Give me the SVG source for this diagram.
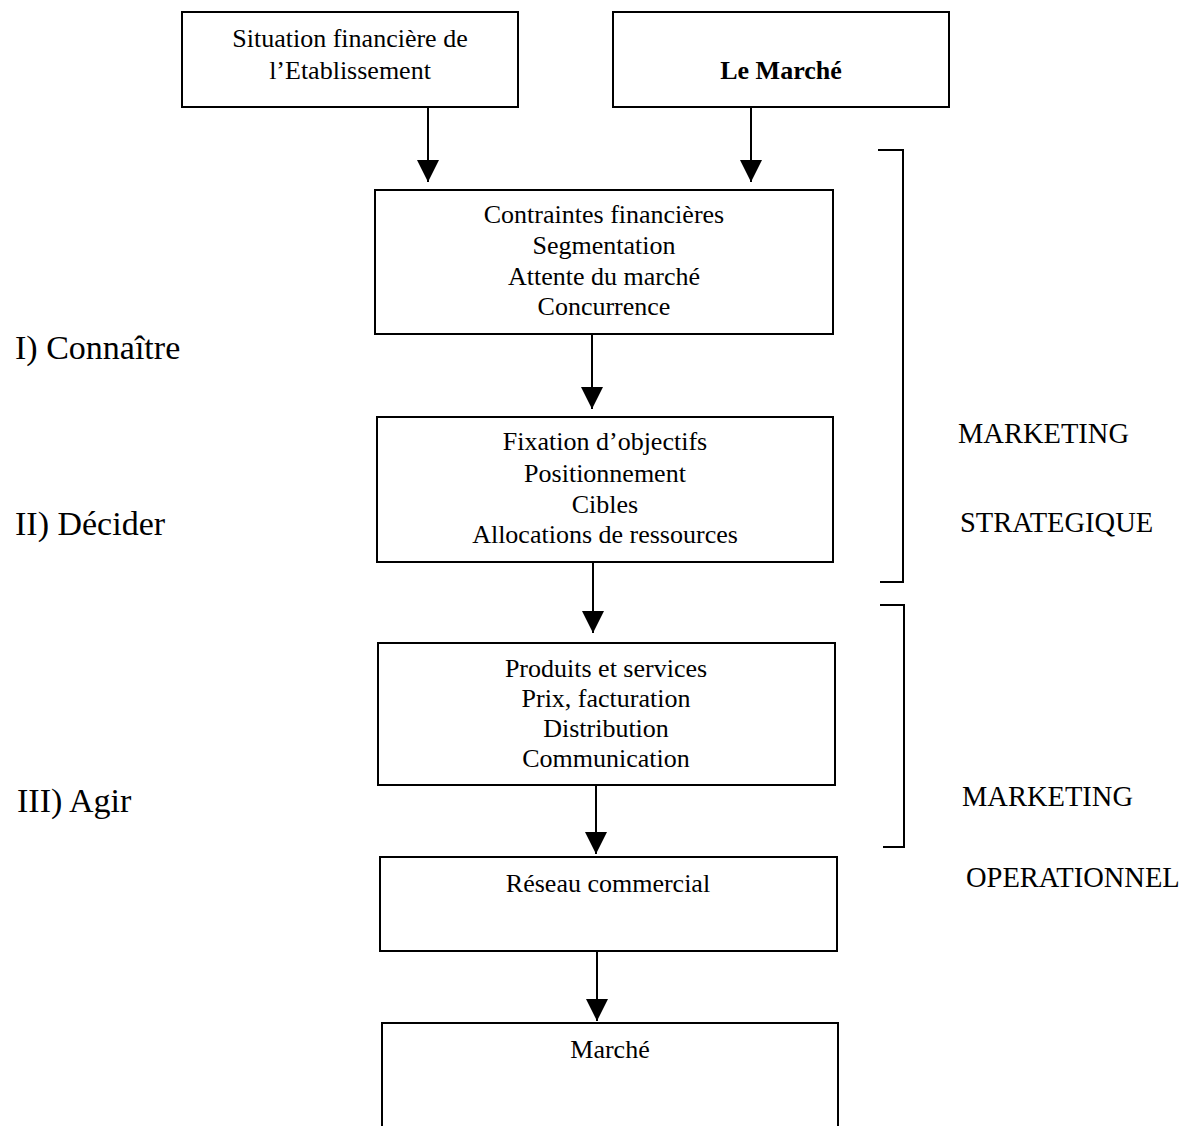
<svg xmlns="http://www.w3.org/2000/svg" width="1191" height="1126" viewBox="0 0 1191 1126">
<style>
  .box { fill: #ffffff; stroke: #000000; stroke-width: 2; }
  .t { font-family: "Liberation Serif", "Times New Roman", serif; font-size: 26px; fill: #000000; text-anchor: middle; }
  .b { font-weight: bold; }
  .side { font-family: "Liberation Serif", "Times New Roman", serif; font-size: 34px; fill: #000000; }
  .mk { font-family: "Liberation Serif", "Times New Roman", serif; font-size: 28.5px; fill: #000000; }
  .conn { stroke: #000000; stroke-width: 2; fill: none; }
  .brk { stroke: #000000; stroke-width: 2; fill: none; }
</style>
<defs>
  <marker id="arr" markerWidth="22" markerHeight="24" refX="22" refY="11" orient="auto" markerUnits="userSpaceOnUse">
    <path d="M0,0 L22,11 L0,22 Z" fill="#000000"/>
  </marker>
</defs>
<rect width="1191" height="1126" fill="#ffffff"/>

<g id="node-situation">
  <rect class="box" x="182" y="12" width="336" height="95"/>
  <text class="t" x="350" y="47">Situation financière de</text>
  <text class="t" x="350" y="79">l’Etablissement</text>
</g>
<g id="node-le-marche">
  <rect class="box" x="613" y="12" width="336" height="95"/>
  <text class="t b" x="781" y="79">Le Marché</text>
</g>
<g id="node-connaitre">
  <rect class="box" x="375" y="190" width="458" height="144"/>
  <text class="t" x="604" y="223">Contraintes financières</text>
  <text class="t" x="604" y="254">Segmentation</text>
  <text class="t" x="604" y="285">Attente du marché</text>
  <text class="t" x="604" y="315">Concurrence</text>
</g>
<g id="node-decider">
  <rect class="box" x="377" y="417" width="456" height="145"/>
  <text class="t" x="605" y="450">Fixation d’objectifs</text>
  <text class="t" x="605" y="482">Positionnement</text>
  <text class="t" x="605" y="513">Cibles</text>
  <text class="t" x="605" y="543">Allocations de ressources</text>
</g>
<g id="node-agir">
  <rect class="box" x="378" y="643" width="457" height="142"/>
  <text class="t" x="606" y="677">Produits et services</text>
  <text class="t" x="606" y="707">Prix, facturation</text>
  <text class="t" x="606" y="737">Distribution</text>
  <text class="t" x="606" y="767">Communication</text>
</g>
<g id="node-reseau">
  <rect class="box" x="380" y="857" width="457" height="94"/>
  <text class="t" x="608" y="892">Réseau commercial</text>
</g>
<g id="node-marche">
  <rect class="box" x="382" y="1023" width="456" height="120"/>
  <text class="t" x="610" y="1058">Marché</text>
</g>

<g id="connectors">
  <line class="conn" x1="428" y1="107" x2="428" y2="182" marker-end="url(#arr)"/>
  <line class="conn" x1="751" y1="107" x2="751" y2="182" marker-end="url(#arr)"/>
  <line class="conn" x1="592" y1="334" x2="592" y2="409" marker-end="url(#arr)"/>
  <line class="conn" x1="593" y1="562" x2="593" y2="633" marker-end="url(#arr)"/>
  <line class="conn" x1="596" y1="785" x2="596" y2="854" marker-end="url(#arr)"/>
  <line class="conn" x1="597" y1="951" x2="597" y2="1021" marker-end="url(#arr)"/>
</g>

<g id="brackets">
  <path class="brk" d="M878,150 L903,150 L903,582 L880,582"/>
  <path class="brk" d="M880,605 L904,605 L904,847 L883,847"/>
</g>

<g id="labels">
  <text class="side" x="15" y="359">I) Connaître</text>
  <text class="side" x="15" y="535">II) Décider</text>
  <text class="side" x="17" y="812">III) Agir</text>
  <text class="mk" x="958" y="443">MARKETING</text>
  <text class="mk" x="960" y="532">STRATEGIQUE</text>
  <text class="mk" x="962" y="806">MARKETING</text>
  <text class="mk" x="966" y="887">OPERATIONNEL</text>
</g>
</svg>
